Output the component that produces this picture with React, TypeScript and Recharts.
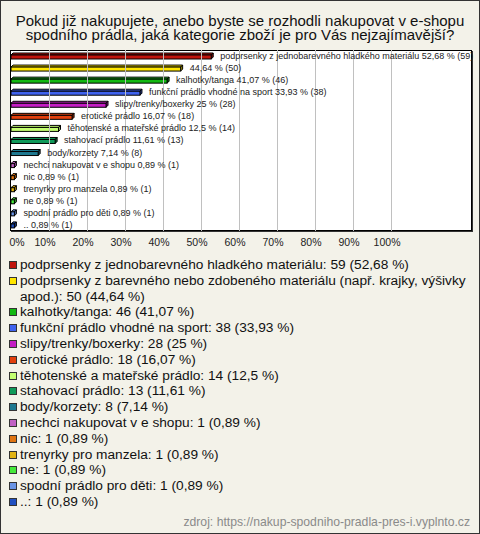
import React from 'react'
import { BarChart, Bar, XAxis, YAxis, CartesianGrid, Cell, LabelList } from 'recharts'

// categories as shown in the legend
const categories = [
  'podprsenky z jednobarevného hladkého materiálu',
  'podprsenky z barevného nebo zdobeného materiálu (např. krajky, výšivky apod.)',
  'kalhotky/tanga',
  'funkční prádlo vhodné na sport',
  'slipy/trenky/boxerky',
  'erotické prádlo',
  'těhotenské a mateřské prádlo',
  'stahovací prádlo',
  'body/korzety',
  'nechci nakupovat v e shopu',
  'nic',
  'trenyrky pro manzela',
  'ne',
  'spodní prádlo pro děti',
  '..'
]

// names used next to the bars (the long one is left out in the original)
const barNames = [
  'podprsenky z jednobarevného hladkého materiálu',
  '',
  'kalhotky/tanga',
  'funkční prádlo vhodné na sport',
  'slipy/trenky/boxerky',
  'erotické prádlo',
  'těhotenské a mateřské prádlo',
  'stahovací prádlo',
  'body/korzety',
  'nechci nakupovat v e shopu',
  'nic',
  'trenyrky pro manzela',
  'ne',
  'spodní prádlo pro děti',
  '..'
]

const counts = [59, 50, 46, 38, 28, 18, 14, 13, 8, 1, 1, 1, 1, 1, 1]
const percents = [52.68, 44.64, 41.07, 33.93, 25, 16.07, 12.5, 11.61, 7.14, 0.89, 0.89, 0.89, 0.89, 0.89, 0.89]

const colors = [
  '#c0140c', '#ffe600', '#12b812', '#3f62ee', '#c41cc4',
  '#e2400e', '#c4ff72', '#0f9a5a', '#1d7890', '#c060c4',
  '#e07412', '#e2b414', '#44e83a', '#6a94e4', '#2050c0'
]

const xTicks = [0, 10, 20, 30, 40, 50, 60, 70, 80, 90, 100]

const fmt = (v: number) => String(v).replace('.', ',')

const data = categories.map((name, i) => ({
  name,
  value: percents[i],
  text: `${barNames[i] ? barNames[i] + ' ' : ''}${fmt(percents[i])} % (${counts[i]})`
}))

const FONT = '"Liberation Sans", Arial, sans-serif'

// plot box inside the 480x534 card
const PLOT_TOP = 50
const PLOT_H = 181
const AXIS_H = 20

const shade = (hex: string, f: number) => {
  const n = parseInt(hex.slice(1), 16)
  const r = Math.round(((n >> 16) & 255) * f)
  const g = Math.round(((n >> 8) & 255) * f)
  const b = Math.round((n & 255) * f)
  return `rgb(${r},${g},${b})`
}

// flat bar with a small 3d top and end
const Bar3D = (props: any) => {
  const { x, y, width, height, fill } = props
  const d = 2
  const w = Math.max(width, 1)
  return (
    <g stroke="#000" strokeWidth={1}>
      <polygon
        points={`${x},${y + d} ${x + d},${y} ${x + w + d},${y} ${x + w},${y + d}`}
        fill={fill}
      />
      <polygon
        points={`${x + w},${y + d} ${x + w + d},${y} ${x + w + d},${y + height - d} ${x + w},${y + height}`}
        fill={shade(fill, 0.7)}
      />
      <rect x={x} y={y + d} width={w} height={height - d} fill={fill} />
    </g>
  )
}

// tick label plus the vertical grid line at the same scale position
const XTick = (props: any) => {
  const { x, y, payload } = props
  return (
    <g>
      {payload.value !== 0 && (
        <rect
          x={Math.floor(x)}
          y={PLOT_TOP}
          width={1}
          height={PLOT_H}
          fill="#c0c0c0"
          shapeRendering="crispEdges"
        />
      )}
      <text
        x={x + (payload.value === 0 ? 6 : -4)}
        y={y}
        dy="0.71em"
        textAnchor="middle"
        fontSize={10.5}
        fontFamily={FONT}
        fill="#222"
      >
        {payload.value}%
      </text>
    </g>
  )
}

const BarLabel = (props: any) => {
  const { x, y, width, height, value } = props
  return (
    <text
      x={x + width + 9}
      y={y + height / 2 + 3}
      fontSize={9}
      fontFamily={FONT}
      fill="#222"
    >
      {value}
    </text>
  )
}

export default function App() {
  return (
    <div
      style={{
        position: 'relative',
        width: 480,
        height: 534,
        boxSizing: 'border-box',
        border: '1px solid #333',
        background: '#f3f2e9',
        fontFamily: FONT,
        overflow: 'hidden'
      }}
    >
      <style>{'body{margin:0}'}</style>

      <div
        style={{
          position: 'absolute',
          left: 0,
          top: 13,
          width: 478,
          textAlign: 'center',
          fontSize: 15,
          lineHeight: '14px',
          color: '#111'
        }}
      >
        Pokud již nakupujete, anebo byste se rozhodli nakupovat v e-shopu
        <br />
        spodního prádla, jaká kategorie zboží je pro Vás nejzajímavější?
      </div>

      {/* plot background and frame */}
      <div
        style={{
          position: 'absolute',
          left: 9,
          top: PLOT_TOP - 1,
          width: 462,
          height: PLOT_H,
          boxSizing: 'border-box',
          border: '1px solid #000',
          boxShadow: '1px 1px 0 #333',
          background: '#fff'
        }}
      />

      <div style={{ position: 'absolute', left: -1, top: -1 }}>
        <BarChart
          width={480}
          height={534}
          layout="vertical"
          data={data}
          margin={{ top: PLOT_TOP, right: 8, left: 11, bottom: 534 - PLOT_TOP - PLOT_H - AXIS_H }}
          barSize={6}
        >
          <CartesianGrid horizontal={false} vertical={false} />
          <XAxis
            type="number"
            domain={[0, 121.3]}
            ticks={xTicks}
            interval={0}
            axisLine={false}
            tickLine={false}
            height={AXIS_H}
            allowDataOverflow
            tick={<XTick />}
          />
          <YAxis type="category" dataKey="name" hide width={0} />
          <Bar dataKey="value" isAnimationActive={false} shape={<Bar3D />}>
            {data.map((_, i) => (
              <Cell key={i} fill={colors[i]} />
            ))}
            <LabelList dataKey="text" content={<BarLabel />} />
          </Bar>
        </BarChart>
      </div>

      <div
        style={{
          position: 'absolute',
          left: 8,
          top: 256,
          width: 464,
          fontSize: 13.7,
          lineHeight: '15.8px',
          color: '#111'
        }}
      >
        {categories.map((name, i) => (
          <div key={name} style={{ position: 'relative', paddingLeft: 11 }}>
            <span
              style={{
                position: 'absolute',
                left: 0,
                top: 4,
                width: 8,
                height: 8,
                boxSizing: 'border-box',
                border: '1px solid #333',
                background: colors[i]
              }}
            />
            {name}: {counts[i]} ({fmt(percents[i])} %)
          </div>
        ))}
      </div>

      <div
        style={{
          position: 'absolute',
          right: 9,
          top: 514,
          fontSize: 12.2,
          color: '#8a8a8a'
        }}
      >
        zdroj: https://nakup-spodniho-pradla-pres-i.vyplnto.cz
      </div>
    </div>
  )
}
